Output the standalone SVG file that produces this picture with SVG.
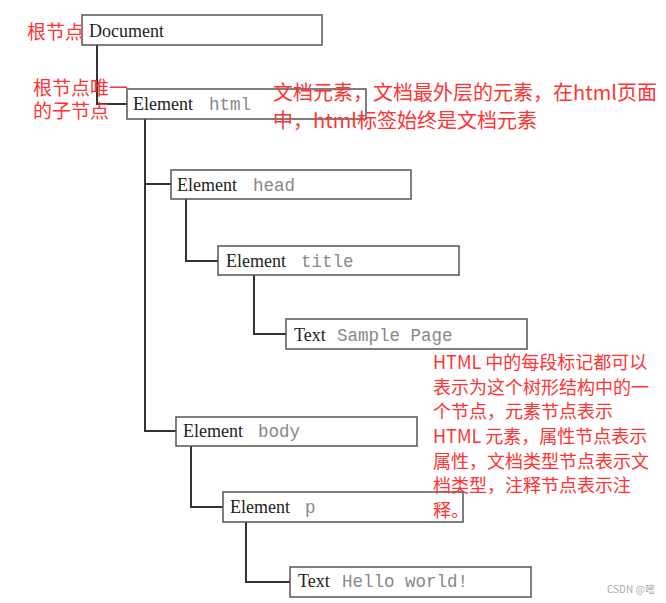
<svg xmlns="http://www.w3.org/2000/svg" width="666" height="603" viewBox="0 0 666 603">
<style>
.box{fill:#fff;stroke:#555;stroke-width:1.5}
.lbl{font-family:"Liberation Serif","Times New Roman",serif;font-size:18px;fill:#222}
.code{font-family:"Liberation Mono","Courier New",monospace;font-size:17.5px;fill:#888}
.con{fill:none;stroke:#333;stroke-width:2}
.note{font-family:"Noto Sans CJK SC","Microsoft YaHei",sans-serif;fill:#f33}
.wm{font-family:"Noto Sans CJK SC",sans-serif;font-size:10px;fill:#aaa}
</style>
<rect width="666" height="603" fill="#fff"/>
<g id="connectors">
<path class="con" d="M97,45 V104 H127"/>
<path class="con" d="M145,119 V431 H176"/>
<path class="con" d="M145,184 H171"/>
<path class="con" d="M186,199 V261 H218"/>
<path class="con" d="M254,275 V334 H286"/>
<path class="con" d="M191,446 V507 H223"/>
<path class="con" d="M246,522 V582 H290"/>
</g>
<g id="node-document">
<rect class="box" x="82" y="15" width="240" height="30"/>
<text class="lbl" x="89" y="37">Document</text>
</g>
<g id="node-html">
<rect class="box" x="127" y="89" width="239" height="30"/>
<text class="lbl" x="133" y="110">Element</text>
<text class="code" x="209" y="110">html</text>
</g>
<g id="node-head">
<rect class="box" x="171" y="170" width="240" height="29"/>
<text class="lbl" x="177" y="191">Element</text>
<text class="code" x="253" y="191">head</text>
</g>
<g id="node-title">
<rect class="box" x="218" y="246" width="241" height="29"/>
<text class="lbl" x="226" y="267">Element</text>
<text class="code" x="301" y="267">title</text>
</g>
<g id="node-text-sample">
<rect class="box" x="286" y="319" width="241" height="30"/>
<text class="lbl" x="294" y="341">Text</text>
<text class="code" x="337" y="341">Sample Page</text>
</g>
<g id="node-body">
<rect class="box" x="176" y="417" width="241" height="29"/>
<text class="lbl" x="183" y="437">Element</text>
<text class="code" x="258" y="437">body</text>
</g>
<g id="node-p">
<rect class="box" x="223" y="492" width="240" height="30"/>
<text class="lbl" x="230" y="513">Element</text>
<text class="code" x="305" y="513">p</text>
</g>
<g id="node-text-hello">
<rect class="box" x="290" y="567" width="241" height="30"/>
<text class="lbl" x="298" y="587">Text</text>
<text class="code" x="342" y="587">Hello world!</text>
</g>
<g id="notes">
<text class="note" font-size="19" x="27" y="39">根节点</text>
<text class="note" font-size="19" x="33" y="95">根节点唯一</text>
<text class="note" font-size="19" x="33" y="118">的子节点</text>
<text class="note" font-size="20" x="273" y="100">文档元素，文档最外层的元素，在html页面</text>
<text class="note" font-size="20" x="273" y="128">中，html标签始终是文档元素</text>
<text class="note" font-size="18" x="433" y="369">HTML 中的每段标记都可以</text>
<text class="note" font-size="18" x="433" y="394">表示为这个树形结构中的一</text>
<text class="note" font-size="18" x="433" y="418">个节点，元素节点表示</text>
<text class="note" font-size="18" x="433" y="443">HTML 元素，属性节点表示</text>
<text class="note" font-size="18" x="433" y="468">属性，文档类型节点表示文</text>
<text class="note" font-size="18" x="433" y="492">档类型，注释节点表示注</text>
<text class="note" font-size="18" x="433" y="517">释。</text>
</g>
<text class="wm" x="607" y="593">CSDN @嘧</text>
</svg>
